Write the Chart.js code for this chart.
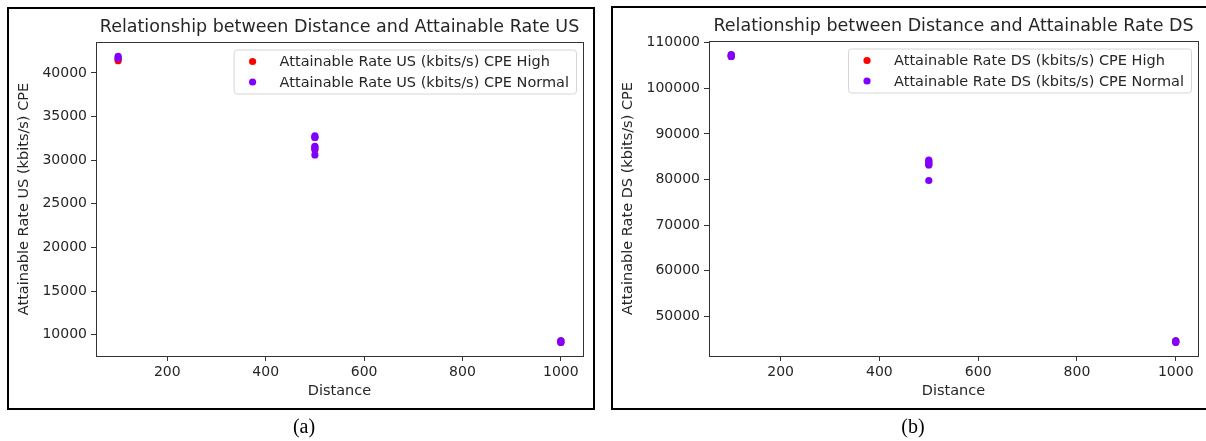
<!DOCTYPE html>
<html>
<head>
<meta charset="utf-8">
<script src="https://cdn.jsdelivr.net/npm/chart.js@4.4.1/dist/chart.umd.min.js"></script>
<style>
  body { margin: 0; background: #fff; width: 1206px; height: 441px; overflow: hidden; position: relative; }
  .frame { position: absolute; border: 2px solid #000; box-sizing: border-box; }
  .wrap { position: absolute; top: 0; height: 441px; }
  .cap { position: absolute; top: 415px; font-family: "Liberation Serif"; font-size: 20px; color: #000; transform: translateX(-50%); }
</style>
</head>
<body>
<div class="frame" style="left:7px;top:7px;width:588px;height:403px"></div>
<div class="frame" style="left:611px;top:6px;width:600px;height:404px"></div>
<div class="wrap" style="left:0;width:600px"><canvas id="chartUS"></canvas></div>
<div class="wrap" style="left:603px;width:603px"><canvas id="chartDS"></canvas></div>
<div class="cap" style="left:304px">(a)</div>
<div class="cap" style="left:913px">(b)</div>
<script>
// ---- data ----
var distanceTicks = [200, 400, 600, 800, 1000];

var usTicks = [10000, 15000, 20000, 25000, 30000, 35000, 40000];
var usHighDistance = [100, 100, 500, 500, 500, 1000, 1000];
var usHighRate = [41400, 41600, 31200, 31500, 32600, 9100, 9300];
var usNormalDistance = [100, 100, 500, 500, 500, 500, 500, 1000, 1000];
var usNormalRate = [41700, 41900, 30600, 31300, 31600, 32600, 32800, 9100, 9300];

var dsTicks = [50000, 60000, 70000, 80000, 90000, 100000, 110000];
var dsHighDistance = [100, 100, 500, 500, 1000, 1000];
var dsHighRate = [107000, 107300, 83300, 84000, 44300, 44600];
var dsNormalDistance = [100, 100, 500, 500, 500, 500, 1000, 1000];
var dsNormalRate = [107000, 107400, 79800, 83200, 83700, 84300, 44300, 44600];

var HIGH = '#ff0000';
var NORMAL = '#7f00ff';
var FONT = '"DejaVu Sans", sans-serif';
var TEXT = '#262626';

function points(xs, ys) {
  return xs.map(function (x, i) { return {x: x, y: ys[i]}; });
}

// axes frame, title and matplotlib style legend
var mplDecor = {
  id: 'mplDecor',
  afterDraw: function (chart, args, opts) {
    var ctx = chart.ctx, a = chart.chartArea;
    ctx.save();
    ctx.strokeStyle = '#333';
    ctx.lineWidth = 1;
    ctx.strokeRect(Math.round(a.left) + 0.5, Math.round(a.top) + 0.5,
      Math.round(a.right - a.left), Math.round(a.bottom - a.top));

    ctx.fillStyle = TEXT;
    ctx.font = '17.5px ' + FONT;
    ctx.textAlign = 'center';
    ctx.textBaseline = 'middle';
    ctx.fillText(opts.title, (a.left + a.right) / 2, opts.titleY);

    ctx.font = '14.5px ' + FONT;
    var sets = chart.data.datasets;
    var tw = Math.max.apply(null, sets.map(function (d) { return ctx.measureText(d.label).width; }));
    var w = 19 + 27 + tw + 7, h = 44;
    var x = a.right - 7 - w, y = a.top + 7.5;
    ctx.beginPath();
    ctx.roundRect(x + 0.5, y + 0.5, w, h, 3);
    ctx.fillStyle = 'rgba(255,255,255,0.8)';
    ctx.fill();
    ctx.strokeStyle = '#d6d6d6';
    ctx.stroke();
    sets.forEach(function (d, i) {
      var cy = y + 12 + i * 20.5;
      ctx.beginPath();
      ctx.arc(x + 19, cy, 3.6, 0, Math.PI * 2);
      ctx.fillStyle = d.backgroundColor;
      ctx.fill();
      ctx.fillStyle = TEXT;
      ctx.textAlign = 'left';
      ctx.fillText(d.label, x + 46, cy + 1);
    });
    ctx.restore();
  }
};

function makeChart(id, cfg) {
  var ctx = document.getElementById(id).getContext('2d');
  return new Chart(ctx, {
    type: 'scatter',
    data: {
      datasets: [
        { label: cfg.highLabel, data: points(cfg.highX, cfg.highY), backgroundColor: HIGH,
          borderWidth: 0, pointRadius: 3.6, order: 1 },
        { label: cfg.normalLabel, data: points(cfg.normalX, cfg.normalY), backgroundColor: NORMAL,
          borderWidth: 0, pointRadius: 3.6, order: 0 }
      ]
    },
    options: {
      responsive: true,
      maintainAspectRatio: false,
      animation: false,
      layout: { padding: { top: cfg.top, right: cfg.right, left: 0, bottom: 0 } },
      plugins: {
        legend: { display: false },
        tooltip: { enabled: false },
        mplDecor: { title: cfg.title, titleY: cfg.titleY }
      },
      scales: {
        x: {
          type: 'linear', min: 55, max: 1045,
          afterBuildTicks: function (s) { s.ticks = distanceTicks.map(function (v) { return {value: v}; }); },
          afterFit: function (s) { s.height = 441 - cfg.bottom; },
          grid: { drawOnChartArea: false, tickLength: 5, tickColor: '#333' },
          border: { display: false },
          ticks: { color: TEXT, font: { family: FONT, size: 14 }, padding: 3, maxRotation: 0,
            callback: function (v) { return String(v); } },
          title: { display: true, text: 'Distance', color: TEXT, font: { family: FONT, size: 14.5 },
            padding: { top: 0, bottom: 41 } }
        },
        y: {
          type: 'linear', min: cfg.yMin, max: cfg.yMax,
          afterBuildTicks: function (s) { s.ticks = cfg.yTicks.map(function (v) { return {value: v}; }); },
          afterFit: function (s) { s.width = cfg.left; },
          grid: { drawOnChartArea: false, tickLength: 5, tickColor: '#333' },
          border: { display: false },
          ticks: { color: TEXT, font: { family: FONT, size: 14 }, padding: 4,
            callback: function (v) { return String(v); } },
          title: { display: true, text: cfg.yTitle, color: TEXT, font: { family: FONT, size: 14.5 },
            padding: { top: cfg.yTitlePad, bottom: 0 } }
        }
      }
    },
    plugins: [mplDecor]
  });
}

makeChart('chartUS', {
  title: 'Relationship between Distance and Attainable Rate US', titleY: 27,
  highLabel: 'Attainable Rate US (kbits/s) CPE High',
  normalLabel: 'Attainable Rate US (kbits/s) CPE Normal',
  highX: usHighDistance, highY: usHighRate,
  normalX: usNormalDistance, normalY: usNormalRate,
  yTicks: usTicks, yMin: 7550, yMax: 43550,
  yTitle: 'Attainable Rate US (kbits/s) CPE', yTitlePad: 16,
  left: 96, top: 42, right: 17, bottom: 356
});

makeChart('chartDS', {
  title: 'Relationship between Distance and Attainable Rate DS', titleY: 26,
  highLabel: 'Attainable Rate DS (kbits/s) CPE High',
  normalLabel: 'Attainable Rate DS (kbits/s) CPE Normal',
  highX: dsHighDistance, highY: dsHighRate,
  normalX: dsNormalDistance, normalY: dsNormalRate,
  yTicks: dsTicks, yMin: 41300, yMax: 110400,
  yTitle: 'Attainable Rate DS (kbits/s) CPE', yTitlePad: 17,
  left: 106, top: 41, right: 8, bottom: 356
});
</script>
</body>
</html>
